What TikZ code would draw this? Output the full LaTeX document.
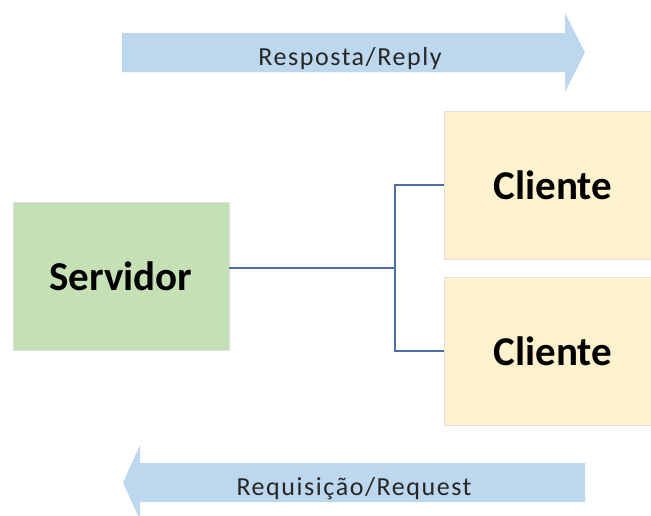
\documentclass[tikz,border=0pt]{standalone}
\usepackage{fontspec}
\setmainfont{Carlito}
\newfontfamily\labelfont[LetterSpace=6]{Carlito}
\begin{document}
\begin{tikzpicture}[x=1pt,y=-1pt,
  flowarrow/.style={fill=arrowblue,draw=none},
  flowlabel/.style={anchor=base,inner sep=0pt,text=black!85,font=\labelfont\fontsize{26}{30}\selectfont},
  serverbox/.style={rectangle,fill=servergreen,draw=black!12,line width=0.8pt,
    minimum width=216pt,minimum height=148pt,inner sep=0pt,
    font=\bfseries\fontsize{41}{48}\selectfont,text=black},
  clientbox/.style={serverbox,fill=clientyellow,minimum width=218pt},
  link/.style={draw=linkblue,line width=2pt}]
\definecolor{arrowblue}{HTML}{BDD7EE}
\definecolor{servergreen}{HTML}{C5E0B4}
\definecolor{clientyellow}{HTML}{FFF2CC}
\definecolor{linkblue}{HTML}{4E6EA6}
\useasboundingbox (0,0) rectangle (651,515);
\clip (0,0) rectangle (651,515);
\fill[white] (0,0) rectangle (651,515);

% reply arrow, pointing right
\path[flowarrow] (122,33) -- (565,33) -- (565,13) -- (585,52.5) -- (565,92)
  -- (565,72) -- (122,72) -- cycle;
\node[flowlabel] (reply) at (350,65) {Resposta/Reply};

% request arrow, pointing left
\path[flowarrow] (585,463) -- (140,463) -- (140,445) -- (123,482.5) -- (140,520)
  -- (140,502) -- (585,502) -- cycle;
\node[flowlabel] (request) at (354,495) {Requisição/Request};

% server and clients
\node[serverbox] (serv) at (121,276) {Servidor};
\node[clientbox] (c1) at (553,185) {Cliente};
\node[clientbox] (c2) at (553,351) {Cliente};

% connectors
\coordinate (j) at (395,268);
\draw[link] (serv.east |- j) -- (j);
\draw[link] (c1.west) -| (j) |- (c2.west);
\end{tikzpicture}
\end{document}
